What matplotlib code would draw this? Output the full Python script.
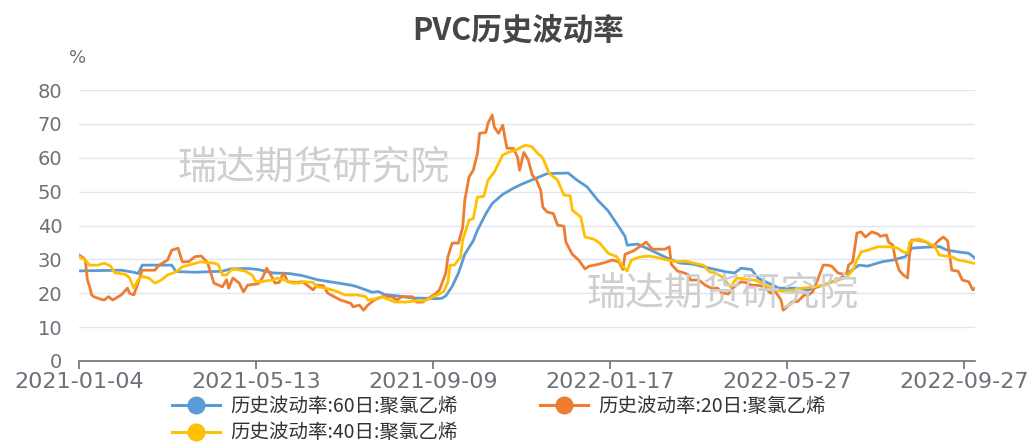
import matplotlib
matplotlib.use("Agg")
import matplotlib.pyplot as plt
from matplotlib.lines import Line2D

plt.rcParams['font.family'] = ['Noto Sans CJK SC', 'DejaVu Sans']

# ----------------------------
# DATA (trading-day index, value in %)
# ----------------------------
tick_pos = [0, 84, 168, 252, 336, 420]
tick_labels = ["2021-01-04", "2021-05-13", "2021-09-09", "2022-01-17", "2022-05-27", "2022-09-27"]
y_ticks = [0, 10, 20, 30, 40, 50, 60, 70, 80]

x60 = [0, 20, 26, 28, 30, 44, 46, 55, 68, 72, 80, 85, 92, 100, 106, 113, 118, 123, 129, 132,
       136, 139, 142, 145, 151, 158, 165, 170, 172, 174, 177, 180, 183, 187, 189, 193, 196, 201,
       206, 210, 215, 222, 232, 236, 241, 246, 251, 255, 259, 260, 265, 272, 279, 285, 291, 299,
       307, 311, 314, 319, 322, 327, 332, 340, 346, 353, 358, 362, 370, 374, 381, 386, 392, 395,
       402, 408, 412, 417, 422, 425]
v60 = [26.6, 26.8, 26.2, 25.8, 28.3, 28.3, 26.4, 26.2, 26.5, 27.2, 27.3, 27.0, 26.0, 25.8, 25.2,
       24.0, 23.5, 23.0, 22.4, 21.9, 21.0, 20.3, 20.5, 19.6, 19.2, 18.6, 18.5, 18.4, 18.5, 19.2,
       22.0, 26.0, 31.5, 35.5, 38.6, 43.5, 46.5, 49.2, 51.0, 52.2, 53.5, 55.3, 55.5, 53.5, 51.4,
       47.5, 44.3, 40.6, 36.8, 34.2, 34.5, 32.5, 30.4, 28.9, 28.6, 27.4, 26.3, 26.0, 27.4, 27.0,
       24.5, 23.0, 21.5, 21.5, 21.0, 22.4, 23.5, 24.8, 28.3, 28.0, 29.3, 29.8, 30.8, 33.3, 33.6,
       33.8, 32.7, 32.2, 31.8, 30.4]

x20 = [0, 2, 3, 4, 5, 6, 7, 10, 12, 14, 16, 20, 23, 24, 26, 28, 30, 36, 38, 42, 44, 47, 49, 52,
       55, 58, 61, 64, 68, 70, 71, 73, 76, 78, 80, 85, 87, 89, 91, 93, 95, 97, 99, 103, 106, 108,
       111, 113, 116, 118, 121, 124, 129, 130, 133, 135, 137, 140, 144, 148, 151, 153, 158, 160,
       163, 166, 169, 171, 174, 175, 177, 180, 182, 183, 185, 187, 189, 190, 193, 194, 196, 197,
       199, 201, 202, 203, 206, 208, 209, 211, 213, 215, 217, 219, 220, 222, 225, 227, 230, 231,
       234, 237, 240, 242, 246, 249, 253, 256, 258, 259, 263, 267, 269, 272, 278, 280, 281, 284,
       287, 289, 290, 294, 297, 300, 303, 305, 308, 310, 314, 316, 319, 322, 325, 328, 330, 333,
       334, 336, 338, 341, 344, 346, 348, 350, 353, 355, 357, 360, 364, 365, 367, 369, 371, 373,
       376, 379, 380, 383, 384, 386, 387, 389, 391, 393, 394, 395, 398, 402, 405, 408, 410, 412,
       414, 417, 419, 422, 424, 425]
v20 = [31.3, 30.5, 29.8, 23.9, 22.0, 19.5, 19.0, 18.3, 18.0, 19.0, 18.0, 19.5, 21.5, 20.0, 19.5,
       23.0, 26.8, 26.8, 28.3, 29.8, 32.7, 33.3, 29.3, 29.3, 30.8, 31.0, 29.0, 23.0, 21.9, 24.0,
       21.5, 24.5, 23.0, 20.4, 22.4, 22.8, 24.5, 27.4, 25.4, 23.0, 23.2, 26.0, 23.4, 23.2, 23.4,
       22.5, 21.0, 22.4, 22.2, 20.0, 19.0, 18.0, 17.0, 16.0, 16.5, 15.0, 16.5, 18.0, 19.0, 19.0,
       18.0, 19.0, 19.0, 17.4, 17.4, 18.6, 19.8, 21.0, 26.0, 30.8, 34.8, 34.8, 39.5, 47.5, 54.3,
       56.3, 61.3, 67.2, 67.5, 70.2, 72.6, 69.0, 67.2, 69.6, 66.0, 62.8, 62.8, 60.2, 56.3, 61.6,
       59.5, 54.9, 53.4, 50.4, 45.4, 44.0, 43.5, 40.1, 39.8, 35.0, 31.5, 29.8, 27.2, 28.0, 28.5,
       29.0, 29.8, 29.3, 27.0, 31.5, 32.5, 34.2, 35.1, 33.0, 33.0, 33.7, 28.5, 26.5, 26.0, 25.5,
       23.9, 23.9, 22.4, 21.5, 21.5, 20.0, 19.8, 21.5, 23.4, 23.2, 22.4, 22.3, 22.0, 20.0, 20.8,
       18.0, 15.0, 16.0, 17.4, 17.6, 19.5, 19.5, 20.4, 23.4, 28.3, 28.3, 28.0, 26.0, 25.4, 28.3,
       29.3, 37.8, 38.1, 36.6, 38.1, 37.5, 36.8, 37.2, 35.1, 34.2, 30.8, 26.8, 25.4, 24.5, 31.8,
       35.7, 35.7, 35.1, 33.7, 35.7, 36.6, 35.5, 26.8, 26.5, 23.9, 23.4, 21.0, 21.5]

x40 = [0, 3, 5, 9, 12, 15, 17, 22, 24, 26, 28, 30, 33, 36, 39, 42, 46, 49, 52, 55, 58, 61, 63,
       66, 68, 70, 72, 73, 75, 79, 82, 84, 87, 89, 92, 94, 98, 101, 104, 107, 111, 113, 117, 120,
       123, 126, 130, 132, 136, 137, 140, 144, 145, 150, 155, 159, 164, 168, 170, 173, 175, 176,
       178, 181, 182, 185, 187, 189, 192, 194, 197, 201, 204, 207, 210, 212, 215, 217, 220, 223,
       227, 230, 233, 234, 238, 240, 244, 247, 251, 255, 258, 260, 262, 266, 270, 274, 279, 284,
       288, 291, 296, 297, 299, 302, 305, 309, 312, 315, 318, 321, 324, 327, 330, 334, 338, 343,
       348, 353, 357, 359, 364, 367, 369, 371, 374, 379, 384, 388, 391, 393, 394, 398, 400, 403,
       406, 408, 411, 414, 417, 420, 424, 425]
v40 = [30.8, 29.8, 28.3, 28.3, 28.9, 28.0, 26.0, 25.6, 24.5, 21.5, 23.9, 25.0, 24.5, 23.0, 23.9,
       25.4, 26.3, 27.8, 28.3, 28.8, 29.3, 29.0, 29.0, 28.5, 25.4, 25.4, 26.8, 27.1, 27.0, 26.5,
       25.4, 23.4, 23.4, 23.7, 23.9, 24.5, 23.8, 23.0, 23.0, 23.4, 23.2, 21.9, 21.5, 21.0, 20.4,
       19.5, 19.5, 19.5, 19.0, 18.0, 18.3, 19.0, 18.6, 17.4, 17.4, 17.7, 17.8, 19.0, 19.5, 20.5,
       23.4, 28.3, 28.3, 30.7, 35.7, 41.6, 42.0, 48.4, 48.6, 53.4, 55.8, 60.8, 61.7, 62.2, 63.2,
       63.7, 63.2, 61.7, 59.9, 55.4, 53.4, 49.0, 48.8, 44.5, 42.5, 36.6, 36.0, 34.8, 31.8, 30.8,
       27.8, 26.6, 29.8, 30.7, 31.0, 30.6, 29.8, 29.3, 29.5, 29.0, 28.3, 27.8, 26.3, 26.0, 24.8,
       21.9, 24.5, 24.3, 24.0, 23.8, 23.0, 21.9, 21.0, 20.6, 20.8, 21.5, 21.8, 22.4, 23.4, 23.6,
       24.8, 26.8, 29.8, 32.2, 32.7, 33.7, 33.7, 33.4, 32.2, 31.8, 35.1, 36.0, 35.7, 34.8, 33.8,
       31.3, 31.0, 30.8, 29.8, 29.5, 28.9, 28.8]

series = [
    ("历史波动率:60日:聚氯乙烯", x60, v60, "#5b9bd5"),
    ("历史波动率:20日:聚氯乙烯", x20, v20, "#ed7d31"),
    ("历史波动率:40日:聚氯乙烯", x40, v40, "#ffc000"),
]

# ----------------------------
# FIGURE
# ----------------------------
fig = plt.figure(figsize=(10.30, 4.45), dpi=100)
ax = fig.add_axes([79 / 1030, 1 - 361 / 445, (975 - 79) / 1030, (361 - 90) / 445])

axis_grey = "#6e7079"

for name, xs, vs, color in series:
    ax.plot(xs, vs, color=color, linewidth=2.0, zorder=3, solid_joinstyle="round")

ax.set_xlim(0, 425)
ax.set_ylim(0, 80)
ax.set_yticks(y_ticks)
ax.set_xticks(tick_pos)
ax.set_xticklabels(tick_labels, family="DejaVu Sans")

ax.grid(True, axis="y", color="#e0e6f1", linewidth=1.0, zorder=0)
for side in ["top", "right", "left"]:
    ax.spines[side].set_visible(False)
ax.spines["bottom"].set_color(axis_grey)
ax.spines["bottom"].set_linewidth(1.2)

ax.tick_params(axis="y", length=0, pad=12, labelsize=14, labelcolor=axis_grey)
ax.tick_params(axis="x", length=6, width=1.2, color=axis_grey, pad=2,
               labelsize=16, labelcolor=axis_grey)
for lab in ax.get_yticklabels():
    lab.set_family("DejaVu Sans")

# unit label
fig.text(78 / 1030, 1 - 58 / 445, "%", ha="center", va="center", fontsize=13,
         color=axis_grey, family="DejaVu Sans")

# title
fig.text(518 / 1030, 1 - 30 / 445, "PVC历史波动率", ha="center", va="center",
         fontsize=22, fontweight="bold", color="#464646")

# watermarks
fig.text(313 / 1030, 1 - 167 / 445, "瑞达期货研究院", ha="center", va="center",
         fontsize=28, color="#cfcfcf", zorder=1)
fig.text(722 / 1030, 1 - 293 / 445, "瑞达期货研究院", ha="center", va="center",
         fontsize=28, color="#cfcfcf", zorder=1)

# legend: one entry per anchor
anchors = [(162, 406), (530, 406), (162, 433)]
for (name, xs, vs, color), (px, py) in zip(series, anchors):
    h = Line2D([], [], color=color, linewidth=2.2, marker="o", markersize=12)
    fig.legend([h], [name], loc="center left", bbox_to_anchor=(px / 1030, 1 - py / 445),
               frameon=False, fontsize=14, handlelength=2.5, handletextpad=0.5,
               borderpad=0, labelcolor="#333333")

fig.savefig("out.png", dpi=100)
